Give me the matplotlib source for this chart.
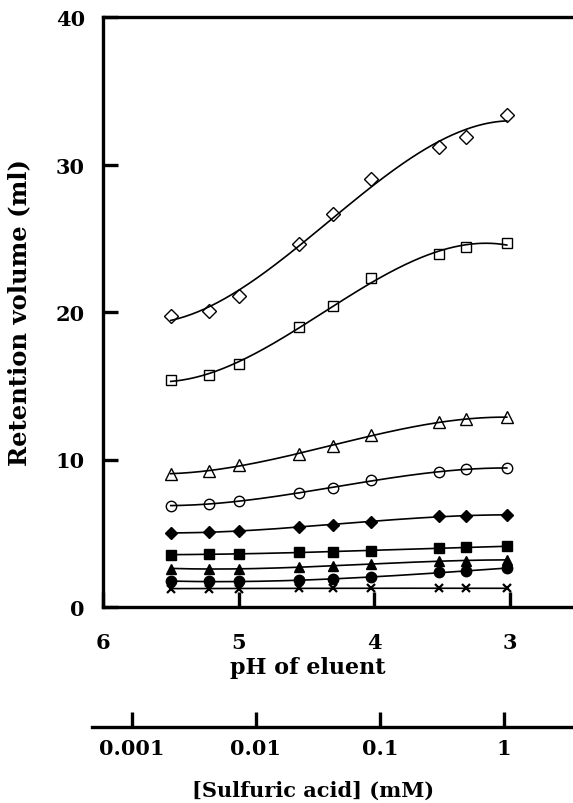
import numpy as np
import matplotlib
matplotlib.use("Agg")
import matplotlib.pyplot as plt

plt.rcParams["font.family"] = "DejaVu Serif"
plt.rcParams["font.weight"] = "bold"

# pH of eluent for each measurement
ph = [5.5, 5.22, 5.0, 4.55, 4.3, 4.02, 3.52, 3.32, 3.02]

# retention volumes (ml), one list per compound
open_diamond = [19.75, 20.05, 21.07, 24.59, 26.64, 29.02, 31.17, 31.88, 33.36]
open_square = [15.41, 15.73, 16.47, 18.96, 20.43, 22.3, 23.91, 24.39, 24.7]
open_triangle = [9.02, 9.24, 9.63, 10.37, 10.93, 11.66, 12.52, 12.75, 12.86]
open_circle = [6.87, 6.98, 7.2, 7.73, 8.07, 8.61, 9.13, 9.36, 9.42]
filled_diamond = [5.02, 5.06, 5.17, 5.44, 5.58, 5.78, 6.15, 6.19, 6.24]
filled_square = [3.55, 3.57, 3.6, 3.71, 3.75, 3.82, 3.98, 4.05, 4.11]
filled_triangle = [2.6, 2.6, 2.6, 2.69, 2.76, 2.92, 3.14, 3.14, 3.19]
filled_circle = [1.74, 1.74, 1.75, 1.8, 1.9, 2.01, 2.35, 2.46, 2.62]
crosses = [1.25, 1.25, 1.25, 1.27, 1.27, 1.27, 1.27, 1.27, 1.27]

series = [
    (open_diamond, "D", "none", 7),
    (open_square, "s", "none", 6.5),
    (open_triangle, "^", "none", 8),
    (open_circle, "o", "none", 7.5),
    (filled_diamond, "D", "black", 6.5),
    (filled_square, "s", "black", 6.5),
    (filled_triangle, "^", "black", 7.5),
    (filled_circle, "o", "black", 7.5),
    (crosses, "x", "black", 6),
]

# concentration axis ticks (mM)
acid_ticks = [0.001, 0.01, 0.1, 1]
acid_labels = ["0.001", "0.01", "0.1", "1"]

fig = plt.figure(figsize=(5.73, 8.04), dpi=100)
ax = fig.add_axes([103 / 573, 196 / 804, 470 / 573, 590 / 804])

x = np.array(ph)
xs = np.linspace(x.min(), x.max(), 200)
for vals, mk, fc, ms in series:
    y = np.array(vals)
    coef = np.polyfit(x, y, 3)
    ax.plot(xs, np.polyval(coef, xs), color="black", lw=1.2, zorder=2)
    ax.plot(x, y, linestyle="none", marker=mk, mfc=fc, mec="black",
            ms=ms, mew=1.6 if mk == "x" else 1.0, zorder=3)

ax.set_xlim(6, 6 - 470 / 135.5)
ax.set_ylim(0, 40)
ax.set_xticks([6, 5, 4, 3])
ax.set_yticks([0, 10, 20, 30, 40])
ax.spines["right"].set_visible(False)
for s in ["left", "top", "bottom"]:
    ax.spines[s].set_linewidth(2.4)
ax.tick_params(axis="both", direction="in", length=11, width=2.4,
               labelsize=15)
ax.tick_params(axis="x", pad=18)
ax.tick_params(axis="y", pad=13)
ax.tick_params(top=False, right=False)

ax.set_xlabel("pH of eluent", fontsize=16, fontweight="bold")
ax.xaxis.set_label_coords(0.436, -0.083)
ax.set_ylabel("Retention volume (ml)", fontsize=17.5, fontweight="bold")
ax.yaxis.set_label_coords(-0.152, 0.5)

# secondary concentration axis
ax2 = fig.add_axes([92 / 573, 76 / 804, 481 / 573, 0.02])
ax2.set_xscale("log")
ax2.set_xlim(10 ** -3.32, 10 ** 0.556)
ax2.set_xticks(acid_ticks)
ax2.set_xticklabels(acid_labels)
ax2.xaxis.set_minor_locator(plt.NullLocator())
ax2.set_yticks([])
for s in ["left", "right", "top"]:
    ax2.spines[s].set_visible(False)
ax2.spines["bottom"].set_linewidth(2.4)
ax2.patch.set_alpha(0)
ax2.tick_params(axis="x", direction="in", length=11, width=2.4,
                labelsize=15, pad=8)
ax2.set_xlabel("[Sulfuric acid] (mM)", fontsize=15, fontweight="bold")
ax2.xaxis.set_label_coords(0.46, -3.3)

fig.savefig("out.png", dpi=100)
